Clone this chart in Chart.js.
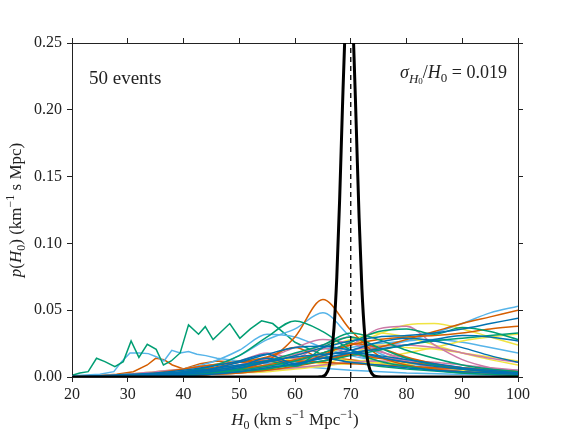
<!DOCTYPE html>
<html>
<head>
<meta charset="utf-8">
<script src="https://cdn.jsdelivr.net/npm/chart.js@4.4.0/dist/chart.umd.min.js"></script>
<style>
  html, body { margin: 0; padding: 0; background: #fff; }
</style>
</head>
<body>
<canvas id="h0Chart" width="576" height="432"></canvas>
<script>
// H0 grid for the smooth event posteriors
const gridH0 = [20, 25, 30, 35, 40, 45, 50, 55, 60, 65, 70, 75, 80, 85, 90, 95, 100];

// event posteriors (units of 1e-3)
const blueEvents = [
  [0, 1, 1, 2, 4, 6, 9, 12, 15, 17, 18, 16, 13, 10, 7, 5, 3],
  [0, 0, 0, 1, 2, 4, 7, 11, 16, 22, 27, 30, 31, 33, 36, 40, 44],
  [0, 0, 1, 2, 3, 5, 8, 14, 9, 16, 20, 26, 29, 27, 22, 16, 11],
  [0, 0, 1, 1, 3, 6, 11, 17, 22, 23, 20, 15, 11, 8, 6, 4, 3],
  [0, 0, 0, 1, 1, 2, 4, 7, 10, 14, 18, 21, 24, 28, 31, 30, 27],
  [0, 1, 2, 3, 5, 8, 12, 17, 10, 14, 11, 9, 7, 5, 4, 3, 2]
];
const greenEvents = [
  [0, 0, 1, 2, 4, 8, 16, 30, 42, 34, 20, 12, 8, 5, 3, 2, 1],
  [0, 0, 0, 1, 2, 3, 5, 8, 12, 18, 26, 34, 36, 32, 37, 34, 28],
  [0, 0, 1, 2, 3, 5, 8, 12, 18, 24, 33, 28, 20, 14, 9, 6, 4],
  [0, 0, 0, 1, 2, 3, 4, 6, 9, 12, 16, 20, 24, 27, 29, 31, 33],
  [0, 0, 1, 1, 2, 4, 6, 12, 8, 22, 30, 22, 14, 9, 6, 4, 2]
];
const orangeEvents = [
  [0, 0, 0, 1, 2, 3, 6, 12, 30, 58, 35, 16, 9, 6, 4, 3, 2],
  [0, 0, 0, 0, 1, 2, 3, 5, 8, 12, 17, 22, 28, 34, 40, 45, 50],
  [0, 0, 1, 2, 4, 7, 11, 15, 22, 14, 17, 14, 11, 9, 7, 5, 4],
  [0, 0, 0, 1, 2, 4, 6, 9, 13, 18, 24, 28, 30, 31, 33, 36, 38],
  [0, 0, 1, 3, 6, 9, 11, 12, 12, 11, 10, 9, 8, 7, 6, 5, 4],
  [0, 0, 0, 1, 1, 2, 4, 6, 10, 16, 25, 22, 15, 10, 6, 4, 3]
];
const pinkEvents = [
  [0, 0, 1, 2, 4, 6, 9, 13, 17, 21, 24, 36, 38, 24, 13, 7, 4],
  [0, 0, 1, 2, 3, 5, 9, 14, 22, 28, 25, 19, 14, 10, 7, 5, 3],
  [0, 1, 2, 4, 6, 9, 12, 18, 14, 24, 17, 15, 12, 9, 7, 5, 3],
  [0, 0, 0, 1, 2, 3, 5, 8, 12, 16, 20, 23, 24, 22, 18, 14, 11],
  [0, 0, 0, 1, 1, 2, 3, 5, 7, 9, 11, 12, 12, 11, 9, 7, 5],
  [0, 0, 1, 1, 2, 4, 7, 11, 16, 24, 30, 20, 12, 7, 4, 2, 1]
];
const yellowEvents = [
  [0, 0, 0, 1, 2, 3, 5, 8, 12, 17, 24, 32, 39, 40, 36, 30, 24],
  [0, 0, 1, 2, 3, 4, 6, 8, 14, 10, 17, 24, 22, 21, 18, 15, 12],
  [0, 0, 0, 0, 1, 2, 3, 5, 7, 9, 10, 11, 10, 9, 7, 5, 4],
  [0, 0, 1, 2, 4, 6, 9, 12, 16, 22, 28, 33, 30, 24, 18, 13, 9],
  [0, 1, 2, 4, 6, 9, 12, 14, 15, 14, 12, 10, 8, 6, 5, 4, 3],
  [0, 0, 0, 1, 1, 2, 3, 4, 6, 8, 11, 14, 18, 22, 27, 30, 32]
];
const lightBlueEvents = [
  [0, 0, 0, 1, 2, 3, 5, 7, 10, 14, 18, 22, 27, 33, 40, 48, 53],
  [0, 0, 1, 2, 4, 8, 16, 28, 36, 48, 30, 18, 11, 7, 5, 3, 2],
  [0, 0, 1, 3, 6, 11, 20, 32, 30, 22, 16, 12, 9, 6, 4, 3, 2],
  [0, 0, 0, 1, 2, 4, 6, 9, 13, 18, 22, 25, 27, 28, 26, 22, 18],
  [0, 0, 1, 2, 3, 5, 7, 14, 11, 12, 17, 11, 10, 9, 7, 6, 5]
];

// coarse, jagged events (own H0 samples, real units)
const jaggedGreenH0 = [20.2, 21.4, 22.9, 24.4, 25.9, 27.7, 29.2, 30.6, 32.0, 33.5, 35.1, 36.4, 37.8, 39.4, 40.9, 42.7, 43.9, 45.3, 46.8, 48.3, 50.1, 52.0, 54.0, 56.0, 58.0, 60.0, 63.0, 66.0, 70.0, 75, 80, 90, 100];
const jaggedGreenP = [0.0015, 0.003, 0.004, 0.014, 0.0115, 0.0077, 0.0115, 0.027, 0.0147, 0.0245, 0.0207, 0.009, 0.012, 0.018, 0.039, 0.032, 0.0377, 0.028, 0.034, 0.040, 0.029, 0.036, 0.042, 0.040, 0.033, 0.026, 0.020, 0.015, 0.011, 0.008, 0.006, 0.003, 0.002];
const jaggedLightBlueH0 = [20, 25, 27.5, 28.9, 30.4, 32.2, 33.7, 35.2, 36.5, 37.9, 39.4, 40.9, 42.4, 44, 46, 50, 55, 60, 70, 80, 100];
const jaggedLightBlueP = [0.001, 0.002, 0.004, 0.0115, 0.018, 0.018, 0.0175, 0.015, 0.012, 0.020, 0.018, 0.019, 0.017, 0.016, 0.014, 0.012, 0.010, 0.008, 0.005, 0.003, 0.001];
const jaggedOrangeH0 = [20, 24, 28, 31, 33.5, 35, 36.5, 38, 40, 43, 46, 50, 55, 60, 65, 70, 80, 90, 100];
const jaggedOrangeP = [0, 0.001, 0.002, 0.004, 0.009, 0.014, 0.013, 0.009, 0.006, 0.010, 0.012, 0.011, 0.010, 0.012, 0.015, 0.013, 0.008, 0.004, 0.002];

// combined posterior
const combinedH0 = [20, 63, 64, 64.5, 65, 65.5, 66, 66.5, 67, 67.5, 68, 68.5, 69, 69.5, 70, 70.5, 71, 71.5, 72, 72.5, 73, 73.5, 74, 74.5, 75.5, 100];
const combinedP = [0, 0, 0.00003, 0.00013, 0.0005, 0.0019, 0.0059, 0.016, 0.037, 0.075, 0.132, 0.200, 0.262, 0.299, 0.294, 0.251, 0.186, 0.119, 0.066, 0.032, 0.013, 0.0048, 0.0015, 0.0004, 0, 0];

const trueH0 = 70;
const xTicks = [20, 30, 40, 50, 60, 70, 80, 90, 100];
const yTicks = [0, 0.05, 0.10, 0.15, 0.20, 0.25];

const FONT = '"Liberation Serif", "DejaVu Serif", serif';
const INK = '#222';

const pts = (xs, ys) => xs.map((x, i) => ({ x: x, y: ys[i] }));

const datasets = [];
const groups = [
  [blueEvents, '#0072B2'],
  [greenEvents, '#009E73'],
  [orangeEvents, '#D55E00'],
  [pinkEvents, '#CC79A7'],
  [yellowEvents, '#F0E442'],
  [lightBlueEvents, '#56B4E9']
];
groups.forEach(([curves, col]) => {
  curves.forEach(vals => {
    datasets.push({
      data: pts(gridH0, vals.map(v => v / 1000)),
      borderColor: col, borderWidth: 1.5,
      cubicInterpolationMode: 'monotone', order: 2
    });
  });
});
[[jaggedGreenH0, jaggedGreenP, '#009E73'],
 [jaggedLightBlueH0, jaggedLightBlueP, '#56B4E9'],
 [jaggedOrangeH0, jaggedOrangeP, '#D55E00']].forEach(([xs, ys, col]) => {
  datasets.push({ data: pts(xs, ys), borderColor: col, borderWidth: 1.5, tension: 0, order: 2 });
});

// black combined curve + dashed true value
datasets.push({
  data: pts(combinedH0, combinedP), borderColor: '#000', borderWidth: 3,
  cubicInterpolationMode: 'monotone', order: 1
});
datasets.push({
  data: [{ x: trueH0, y: 0 }, { x: trueH0, y: 0.25 }],
  borderColor: '#000', borderWidth: 1.3, borderDash: [5, 4], order: 0
});

// text with sub/superscripts
function richWidth(ctx, segs, base) {
  let w = 0;
  segs.forEach(s => {
    ctx.font = (s.it ? 'italic ' : '') + Math.round(base * (s.sc || 1)) + 'px ' + FONT;
    w += ctx.measureText(s.t).width;
  });
  return w;
}
function drawRich(ctx, segs, x, y, base, align) {
  const w = richWidth(ctx, segs, base);
  let cx = align === 'center' ? x - w / 2 : align === 'right' ? x - w : x;
  ctx.textAlign = 'left';
  ctx.textBaseline = 'alphabetic';
  segs.forEach(s => {
    ctx.font = (s.it ? 'italic ' : '') + Math.round(base * (s.sc || 1)) + 'px ' + FONT;
    ctx.fillText(s.t, cx, y + (s.dy || 0) * base);
    cx += ctx.measureText(s.t).width;
  });
}
const SUB = { sc: 0.7, dy: 0.22 };
const SUP = { sc: 0.7, dy: -0.42 };

const labelsPlugin = {
  id: 'labels',
  afterDraw(chart) {
    const ctx = chart.ctx;
    const a = chart.chartArea;
    ctx.save();
    ctx.fillStyle = INK;
    // x title
    drawRich(ctx, [
      { t: 'H', it: true }, Object.assign({ t: '0' }, SUB),
      { t: ' (km s' }, Object.assign({ t: '\u22121' }, SUP),
      { t: ' Mpc' }, Object.assign({ t: '\u22121' }, SUP), { t: ')' }
    ], (a.left + a.right) / 2, 425, 17, 'center');
    // y title
    ctx.save();
    ctx.translate(21, (a.top + a.bottom) / 2);
    ctx.rotate(-Math.PI / 2);
    drawRich(ctx, [
      { t: 'p', it: true }, { t: '(' }, { t: 'H', it: true }, Object.assign({ t: '0' }, SUB),
      { t: ') (km' }, Object.assign({ t: '\u22121' }, SUP), { t: ' s Mpc)' }
    ], 0, 0, 17, 'center');
    ctx.restore();
    // annotations
    drawRich(ctx, [{ t: '50 events' }], a.left + 17, 84, 19, 'left');
    drawRich(ctx, [
      { t: '\u03c3', it: true }, { t: 'H', it: true, sc: 0.7, dy: 0.25 }, { t: '0', sc: 0.5, dy: 0.33 },
      { t: '/' }, { t: 'H', it: true }, Object.assign({ t: '0' }, SUB), { t: ' = 0.019' }
    ], a.right - 11, 78, 18, 'right');
    ctx.restore();
  }
};

const tickFont = { family: FONT, size: 16 };
const frame = (pos, size) => ({
  type: 'linear', position: pos,
  grid: { drawOnChartArea: false, drawTicks: true, tickLength: 5, color: INK, lineWidth: 1 },
  border: { display: true, color: INK, width: 1 },
  afterFit: s => { if (s.isHorizontal()) s.height = size; else s.width = size; }
});

const xOpts = (pos, size, show) => Object.assign(frame(pos, size), {
  min: 20, max: 100,
  ticks: { display: show, stepSize: 10, font: tickFont, color: INK, padding: 3 },
  afterBuildTicks: s => { s.ticks = xTicks.map(v => ({ value: v })); }
});
const yOpts = (pos, size, show) => Object.assign(frame(pos, size), {
  min: 0, max: 0.25,
  ticks: { display: show, stepSize: 0.05, font: tickFont, color: INK, padding: 5, callback: v => v.toFixed(2) },
  afterBuildTicks: s => { s.ticks = yTicks.map(v => ({ value: v })); }
});

new Chart(document.getElementById('h0Chart').getContext('2d'), {
  type: 'line',
  data: { datasets: datasets },
  options: {
    responsive: false,
    animation: false,
    devicePixelRatio: 1,
    layout: { padding: 0 },
    elements: { point: { radius: 0 }, line: { fill: false } },
    plugins: { legend: { display: false }, tooltip: { enabled: false } },
    scales: {
      x: xOpts('bottom', 55, true),
      x2: xOpts('top', 43, false),
      y: yOpts('left', 72, true),
      y2: yOpts('right', 58, false)
    }
  },
  plugins: [labelsPlugin]
});
</script>
</body>
</html>
